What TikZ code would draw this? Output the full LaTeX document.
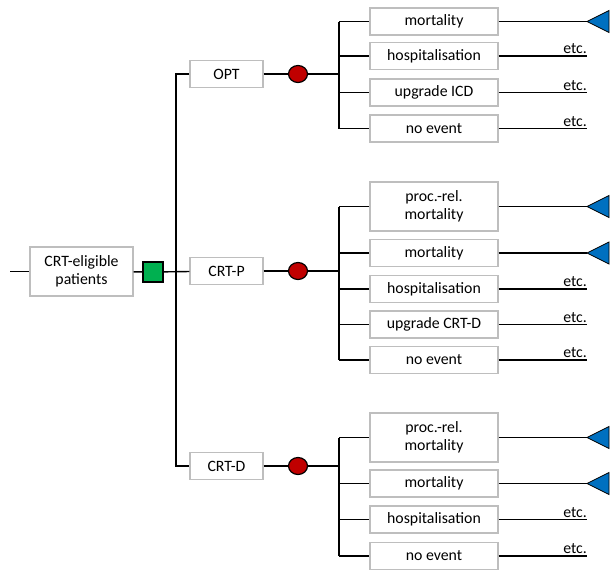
\documentclass[tikz,border=0pt]{standalone}
\usepackage{fontspec}
\setmainfont{Carlito}
\usetikzlibrary{shapes.geometric}
\definecolor{boxgray}{RGB}{190,190,190}
\definecolor{decgreen}{RGB}{0,176,80}
\definecolor{chancered}{RGB}{192,0,0}
\definecolor{termblue}{RGB}{0,112,192}
\begin{document}
\begin{tikzpicture}[x=1pt,y=-1pt,font=\fontsize{15.8}{18.5}\selectfont,
  box/.style={draw=boxgray,line width=1.4pt,fill=white,minimum height=27pt,inner sep=0pt,align=center},
  lbox/.style={box,minimum width=128pt},
  tallbox/.style={lbox,minimum height=49pt},
  sbox/.style={box,minimum width=73pt},
  conn/.style={line width=1.4pt,black},
  decision/.style={draw=black,line width=1.2pt,fill=decgreen,minimum width=20pt,minimum height=20pt,inner sep=0pt},
  chance/.style={ellipse,draw=black,line width=1.2pt,fill=chancered,minimum width=19pt,minimum height=17pt,inner sep=0pt},
  term/.style={draw=black,line width=0.8pt,fill=termblue},
  etclabel/.style={anchor=south east,inner sep=0pt,yshift=2pt}]
\useasboundingbox (0,0) rectangle (613,571);

% root
\coordinate (start) at (10,271.5);
\node[box,minimum width=103pt,minimum height=49pt] (root) at (81.5,271.5) {CRT-eligible\\patients};
\node[decision] (dec) at (153,272) {};
\draw[conn] (start) -- (root);
\draw[conn] (root) -- (dec);

% strategies
\node[sbox] (sO) at (226.5,74) {OPT};
\node[sbox] (sP) at (226.5,271) {CRT-P};
\node[sbox] (sD) at (226.5,466) {CRT-D};
\coordinate (hub) at (176,271);
\draw[conn] (dec) -- (sP);
\draw[conn] (sO.west) -- (sO.west -| hub) -- (sD.west -| hub) -- (sD.west);

% chance nodes
\node[chance] (cO) at (298,74) {};
\node[chance] (cP) at (298,271) {};
\node[chance] (cD) at (298,466) {};
\draw[conn] (sO) -- (cO);
\draw[conn] (sP) -- (cP);
\draw[conn] (sD) -- (cD);
\coordinate (jO) at (339,74);
\coordinate (jP) at (339,271);
\coordinate (jD) at (339,466);
\draw[conn] (cO) -- (jO);
\draw[conn] (cP) -- (jP);
\draw[conn] (cD) -- (jD);

% OPT outcomes
\node[lbox] (o1) at (434,21.5) {mortality};
\node[lbox] (o2) at (434,56) {hospitalisation};
\node[lbox] (o3) at (434,92.5) {upgrade ICD};
\node[lbox] (o4) at (434,128.5) {no event};
\draw[conn] (jO |- o1.west) -- (jO |- o4.west);
\foreach \n in {o1,o2,o3,o4} \draw[conn] (jO |- \n.west) -- (\n.west);

% CRT-P outcomes
\node[tallbox] (p1) at (434,206.5) {proc.-rel.\\mortality};
\node[lbox] (p2) at (434,253) {mortality};
\node[lbox] (p3) at (434,289) {hospitalisation};
\node[lbox] (p4) at (434,324.5) {upgrade CRT-D};
\node[lbox] (p5) at (434,360) {no event};
\draw[conn] (jP |- p1.west) -- (jP |- p5.west);
\foreach \n in {p1,p2,p3,p4,p5} \draw[conn] (jP |- \n.west) -- (\n.west);

% CRT-D outcomes
\node[tallbox] (d1) at (434,437.5) {proc.-rel.\\mortality};
\node[lbox] (d2) at (434,483.5) {mortality};
\node[lbox] (d3) at (434,519.5) {hospitalisation};
\node[lbox] (d4) at (434,556) {no event};
\draw[conn] (jD |- d1.west) -- (jD |- d4.west);
\foreach \n in {d1,d2,d3,d4} \draw[conn] (jD |- \n.west) -- (\n.west);

% terminal (death) triangles
\foreach \n in {o1,p1,p2,d1,d2}{
  \coordinate (t\n) at (587,0 |- \n.east);
  \draw[conn] (\n.east) -- (t\n);
  \draw[term] (t\n) -- ++(22,-11) -- ++(0,22) -- cycle;
}

% etc. branches
\foreach \n in {o2,o3,o4,p3,p4,p5,d3,d4}{
  \coordinate (e\n) at (587,0 |- \n.east);
  \draw[conn] (\n.east) -- (e\n);
  \node[etclabel] at (e\n) {etc.};
}
\end{tikzpicture}
\end{document}
